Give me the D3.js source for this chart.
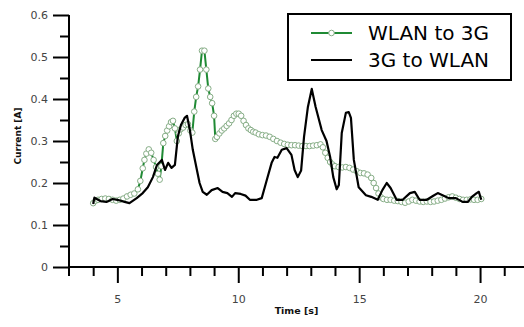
<!DOCTYPE html>
<html>
<head>
<meta charset="utf-8">
<script src="https://cdn.jsdelivr.net/npm/d3@7"></script>
<style>
  body { margin: 0; background: #fff; }
  svg { display: block; }
</style>
</head>
<body>
<svg id="chart" width="524" height="327"></svg>
<script>
// WLAN to 3G handover: [time s, current A]
var wlanTo3g = [
  [4.0,0.152],[4.1,0.158],[4.2,0.160],[4.35,0.162],[4.5,0.163],[4.65,0.162],[4.8,0.160],
  [4.95,0.158],[5.1,0.160],[5.25,0.163],[5.4,0.168],[5.55,0.172],[5.7,0.175],[5.85,0.185],
  [5.95,0.205],[6.05,0.235],[6.12,0.255],[6.2,0.270],[6.3,0.280],[6.4,0.272],[6.5,0.255],
  [6.6,0.238],[6.68,0.222],[6.75,0.208],[6.82,0.240],[6.9,0.295],[6.98,0.312],[7.06,0.325],
  [7.14,0.335],[7.22,0.345],[7.3,0.348],[7.38,0.330],[7.46,0.300],[7.54,0.318],[7.62,0.328],
  [7.72,0.332],[7.82,0.338],[7.92,0.340],[8.02,0.325],[8.1,0.320],[8.18,0.370],[8.26,0.405],
  [8.34,0.430],[8.42,0.470],[8.5,0.515],[8.6,0.515],[8.68,0.470],[8.76,0.425],[8.84,0.405],
  [8.92,0.390],[9.0,0.360],[9.05,0.305],[9.12,0.310],[9.22,0.318],[9.32,0.325],[9.42,0.330],
  [9.52,0.336],[9.62,0.342],[9.72,0.350],[9.82,0.360],[9.92,0.365],[10.02,0.365],[10.12,0.360],
  [10.22,0.348],[10.32,0.338],[10.42,0.330],[10.52,0.326],[10.62,0.322],[10.72,0.320],
  [10.85,0.316],[11.0,0.314],[11.15,0.313],[11.3,0.310],[11.45,0.305],[11.6,0.300],
  [11.75,0.296],[11.9,0.293],[12.05,0.291],[12.2,0.290],[12.35,0.290],[12.5,0.289],
  [12.65,0.288],[12.8,0.288],[12.95,0.288],[13.1,0.289],[13.25,0.290],[13.4,0.292],
  [13.5,0.285],[13.6,0.272],[13.7,0.260],[13.8,0.250],[13.9,0.244],[14.0,0.240],[14.15,0.238],
  [14.3,0.237],[14.45,0.238],[14.6,0.236],[14.75,0.232],[14.9,0.228],[15.05,0.224],
  [15.2,0.223],[15.35,0.220],[15.5,0.212],[15.6,0.200],[15.7,0.188],[15.8,0.175],[15.9,0.166],
  [16.0,0.162],[16.15,0.160],[16.3,0.160],[16.45,0.158],[16.6,0.157],[16.75,0.155],
  [16.9,0.153],[17.05,0.156],[17.2,0.160],[17.35,0.158],[17.5,0.156],[17.65,0.155],
  [17.8,0.156],[17.95,0.155],[18.1,0.156],[18.25,0.158],[18.4,0.160],[18.55,0.163],
  [18.7,0.166],[18.85,0.168],[19.0,0.165],[19.15,0.162],[19.3,0.160],[19.45,0.160],
  [19.6,0.161],[19.75,0.160],[19.9,0.160],[20.05,0.162]
];

// 3G to WLAN handover
var g3ToWlan = [
  [4.0,0.150],[4.05,0.165],[4.3,0.157],[4.55,0.155],[4.8,0.162],[5.0,0.160],[5.3,0.155],
  [5.5,0.152],[5.8,0.164],[6.05,0.176],[6.26,0.190],[6.47,0.214],[6.64,0.243],[6.84,0.255],
  [6.97,0.231],[7.1,0.248],[7.24,0.236],[7.38,0.243],[7.5,0.310],[7.63,0.338],[7.78,0.355],
  [7.88,0.360],[8.0,0.326],[8.12,0.279],[8.29,0.231],[8.4,0.200],[8.53,0.179],[8.7,0.172],
  [8.9,0.183],[9.15,0.188],[9.35,0.179],[9.55,0.176],[9.74,0.167],[9.87,0.176],[10.1,0.174],
  [10.3,0.170],[10.48,0.160],[10.77,0.160],[10.97,0.164],[11.18,0.207],[11.38,0.248],
  [11.5,0.262],[11.62,0.260],[11.8,0.279],[12.0,0.283],[12.2,0.267],[12.33,0.231],
  [12.46,0.214],[12.6,0.230],[12.72,0.310],[12.88,0.381],[13.04,0.424],[13.2,0.381],
  [13.45,0.326],[13.65,0.300],[13.8,0.262],[13.93,0.214],[14.07,0.185],[14.16,0.195],
  [14.28,0.319],[14.45,0.367],[14.57,0.369],[14.66,0.355],[14.78,0.255],[14.98,0.190],
  [15.28,0.171],[15.5,0.167],[15.77,0.160],[15.96,0.183],[16.14,0.200],[16.3,0.188],
  [16.55,0.160],[16.8,0.160],[17.1,0.176],[17.3,0.179],[17.5,0.160],[17.8,0.160],
  [18.05,0.169],[18.25,0.176],[18.45,0.171],[18.7,0.164],[19.0,0.164],[19.28,0.155],
  [19.5,0.155],[19.66,0.167],[19.86,0.176],[19.95,0.179],[20.05,0.160]
];

var xTicks = [5, 10, 15, 20];
var yTicks = [0, 0.1, 0.2, 0.3, 0.4, 0.5, 0.6];
var seriesNames = ["WLAN to 3G", "3G to WLAN"];

var svg = d3.select("#chart");
var x = d3.scaleLinear().domain([3, 21.9]).range([69, 526]);
var y = d3.scaleLinear().domain([0, 0.6]).range([267, 15]);

var font = "DejaVu Sans, Verdana, sans-serif";

// minor ticks every 1 s and every 0.05 A
var xMinor = d3.range(4, 22, 1).filter(function(d) { return d % 5 != 0; });
var yMinor = d3.range(0.05, 0.6, 0.1);

var xAxis = svg.append("g").attr("transform", "translate(0," + y(0) + ")")
  .call(d3.axisBottom(x).tickValues(xTicks).tickSize(16).tickPadding(12).tickFormat(d3.format("d")));
var xMin = svg.append("g").attr("transform", "translate(0," + y(0) + ")")
  .call(d3.axisBottom(x).tickValues(xMinor).tickSize(9).tickFormat(""));
xMin.select(".domain").remove();
// y axis pokes below the x axis
svg.append("line").attr("x1", x(3)).attr("x2", x(3)).attr("y1", y(0)).attr("y2", y(0) + 9)
  .attr("stroke", "#000").attr("stroke-width", 2);

var yAxis = svg.append("g").attr("transform", "translate(" + x(3) + ",0)")
  .call(d3.axisLeft(y).tickValues(yTicks).tickSize(16).tickPadding(5).tickFormat(d3.format("")));
var yMin = svg.append("g").attr("transform", "translate(" + x(3) + ",0)")
  .call(d3.axisLeft(y).tickValues(yMinor).tickSize(9).tickFormat(""));
yMin.select(".domain").remove();

svg.selectAll(".domain").attr("stroke", "#000").attr("stroke-width", 2);
svg.selectAll(".tick line").attr("stroke", "#000").attr("stroke-width", 2);
svg.selectAll(".tick text").attr("fill", "#444").style("font-family", font).style("font-size", "11px");
xAxis.select(".domain").attr("d", "M" + x(3) + ",0H" + x(21.9));
yAxis.select(".domain").attr("d", "M0," + y(0.6) + "V" + y(0));

// axis titles
svg.append("text").attr("x", (x(3) + x(21.9)) / 2 - 1).attr("y", 314)
  .attr("text-anchor", "middle").style("font-family", font).style("font-size", "9.5px")
  .style("font-weight", "bold").attr("fill", "#111").text("Time [s]");
svg.append("text").attr("transform", "translate(21,136) rotate(-90)")
  .attr("text-anchor", "middle").style("font-family", font).style("font-size", "9px")
  .style("font-weight", "bold").attr("fill", "#111").text("Current [A]");

var line = d3.line().x(function(d) { return x(d[0]); }).y(function(d) { return y(d[1]); });

var green = "#1f8a34", markerStroke = "#86ad86";

svg.append("path").datum(wlanTo3g).attr("d", line)
  .attr("fill", "none").attr("stroke", green).attr("stroke-width", 2);
svg.append("g").selectAll("circle").data(wlanTo3g).enter().append("circle")
  .attr("cx", function(d) { return x(d[0]); })
  .attr("cy", function(d) { return y(d[1]); })
  .attr("r", 2.8).attr("fill", "#fff").attr("stroke", markerStroke).attr("stroke-width", 1);

svg.append("path").datum(g3ToWlan).attr("d", line)
  .attr("fill", "none").attr("stroke", "#000").attr("stroke-width", 2.2)
  .attr("stroke-linejoin", "round");

// legend
var legend = svg.append("g");
legend.append("rect").attr("x", 288).attr("y", 14).attr("width", 223).attr("height", 66)
  .attr("fill", "#fff").attr("stroke", "#000").attr("stroke-width", 2);
var rows = legend.selectAll("g.row").data(seriesNames).enter().append("g")
  .attr("transform", function(d, i) { return "translate(0," + (33 + i * 27) + ")"; });
rows.append("line").attr("x1", 311).attr("x2", 352).attr("y1", 0).attr("y2", 0)
  .attr("stroke", function(d, i) { return i == 0 ? green : "#000"; }).attr("stroke-width", 2);
rows.filter(function(d, i) { return i == 0; }).append("circle")
  .attr("cx", 331.5).attr("cy", 0).attr("r", 2.8)
  .attr("fill", "#fff").attr("stroke", markerStroke);
rows.append("text").attr("x", 368).attr("y", 7).style("font-family", font)
  .style("font-size", "20px").attr("fill", "#000").text(function(d) { return d; });
</script>
</body>
</html>
